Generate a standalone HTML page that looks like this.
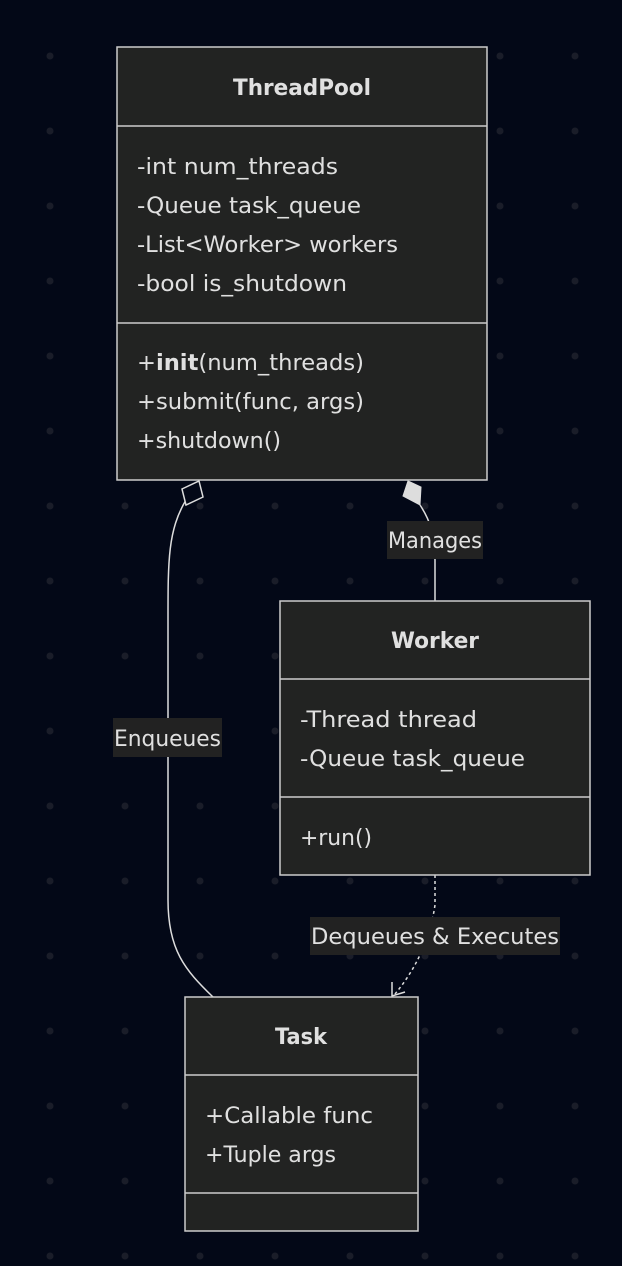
<!DOCTYPE html>
<html><head><meta charset="utf-8"><style>
html,body{margin:0;padding:0;background:#030817;}
svg{display:block}
text{font-family:"DejaVu Sans","Liberation Sans",sans-serif;fill:#e0e0e0;font-size:22.5px}
.b{font-weight:bold}
</style></head><body>
<svg width="622" height="1266" xmlns="http://www.w3.org/2000/svg">
<defs><pattern id="d" x="0" y="0" width="75" height="75" patternUnits="userSpaceOnUse" patternTransform="translate(50,56)">
<circle cx="0" cy="0" r="3.5" fill="#1a1d29"/><circle cx="75" cy="0" r="3.5" fill="#1a1d29"/><circle cx="0" cy="75" r="3.5" fill="#1a1d29"/><circle cx="75" cy="75" r="3.5" fill="#1a1d29"/></pattern></defs>
<rect width="622" height="1266" fill="#030817"/>
<rect width="622" height="1266" fill="url(#d)"/>

<path d="M186,500 C168,530 168,560 168,620 L168,900 C168,950 185,970 213,997" fill="none" stroke="#ddd" stroke-width="1.5"/>
<polygon points="199,481 203,497 186,505 182,489" fill="#030817" stroke="#ddd" stroke-width="1.5"/>
<path d="M420,505 C430,520 435,535 435,560 L435,601" fill="none" stroke="#ddd" stroke-width="1.5"/>
<polygon points="408,481 421,487 420,505 403,496" fill="#ddd" stroke="#ddd" stroke-width="1"/>
<path d="M435,875 L435,905 C430,940 415,970 395,994" fill="none" stroke="#ddd" stroke-width="1.5" stroke-dasharray="3,3"/>
<path d="M392,982 L392,996 L405,992" fill="none" stroke="#ddd" stroke-width="1.5"/>

<rect x="113" y="718" width="109" height="39" fill="#222"/>
<text x="167.5" y="746" text-anchor="middle" textLength="107" lengthAdjust="spacingAndGlyphs">Enqueues</text>
<rect x="387" y="521" width="96" height="38" fill="#222"/>
<text x="435" y="548" text-anchor="middle" textLength="94" lengthAdjust="spacingAndGlyphs">Manages</text>
<rect x="310" y="917" width="250" height="38" fill="#222"/>
<text x="435" y="944" text-anchor="middle" textLength="248" lengthAdjust="spacingAndGlyphs">Dequeues &amp; Executes</text>

<rect x="117" y="47" width="370" height="433" fill="#222322" stroke="#ccc" stroke-width="1.5"/>
<line x1="117" y1="126" x2="487" y2="126" stroke="#ccc" stroke-width="1.5"/>
<line x1="117" y1="323" x2="487" y2="323" stroke="#ccc" stroke-width="1.5"/>
<text class="b" x="302" y="95" text-anchor="middle" textLength="138" lengthAdjust="spacingAndGlyphs">ThreadPool</text>
<text x="137" y="174" textLength="201" lengthAdjust="spacingAndGlyphs">-int num_threads</text>
<text x="137" y="213" textLength="224" lengthAdjust="spacingAndGlyphs">-Queue task_queue</text>
<text x="137" y="252" textLength="261" lengthAdjust="spacingAndGlyphs">-List&lt;Worker&gt; workers</text>
<text x="137" y="291" textLength="210" lengthAdjust="spacingAndGlyphs">-bool is_shutdown</text>
<text x="137" y="370" textLength="227" lengthAdjust="spacingAndGlyphs">+<tspan class="b">init</tspan>(num_threads)</text>
<text x="137" y="409" textLength="227" lengthAdjust="spacingAndGlyphs">+submit(func, args)</text>
<text x="137" y="448" textLength="144" lengthAdjust="spacingAndGlyphs">+shutdown()</text>

<rect x="280" y="601" width="310" height="274" fill="#222322" stroke="#ccc" stroke-width="1.5"/>
<line x1="280" y1="679" x2="590" y2="679" stroke="#ccc" stroke-width="1.5"/>
<line x1="280" y1="797" x2="590" y2="797" stroke="#ccc" stroke-width="1.5"/>
<text class="b" x="435" y="648" text-anchor="middle" textLength="88" lengthAdjust="spacingAndGlyphs">Worker</text>
<text x="300" y="727" textLength="177" lengthAdjust="spacingAndGlyphs">-Thread thread</text>
<text x="300" y="766" textLength="225" lengthAdjust="spacingAndGlyphs">-Queue task_queue</text>
<text x="300" y="845" textLength="72" lengthAdjust="spacingAndGlyphs">+run()</text>

<rect x="185" y="997" width="233" height="234" fill="#222322" stroke="#ccc" stroke-width="1.5"/>
<line x1="185" y1="1075" x2="418" y2="1075" stroke="#ccc" stroke-width="1.5"/>
<line x1="185" y1="1193" x2="418" y2="1193" stroke="#ccc" stroke-width="1.5"/>
<text class="b" x="301" y="1044" text-anchor="middle" textLength="52" lengthAdjust="spacingAndGlyphs">Task</text>
<text x="205" y="1123" textLength="168" lengthAdjust="spacingAndGlyphs">+Callable func</text>
<text x="205" y="1162" textLength="131" lengthAdjust="spacingAndGlyphs">+Tuple args</text>
</svg>
</body></html>
